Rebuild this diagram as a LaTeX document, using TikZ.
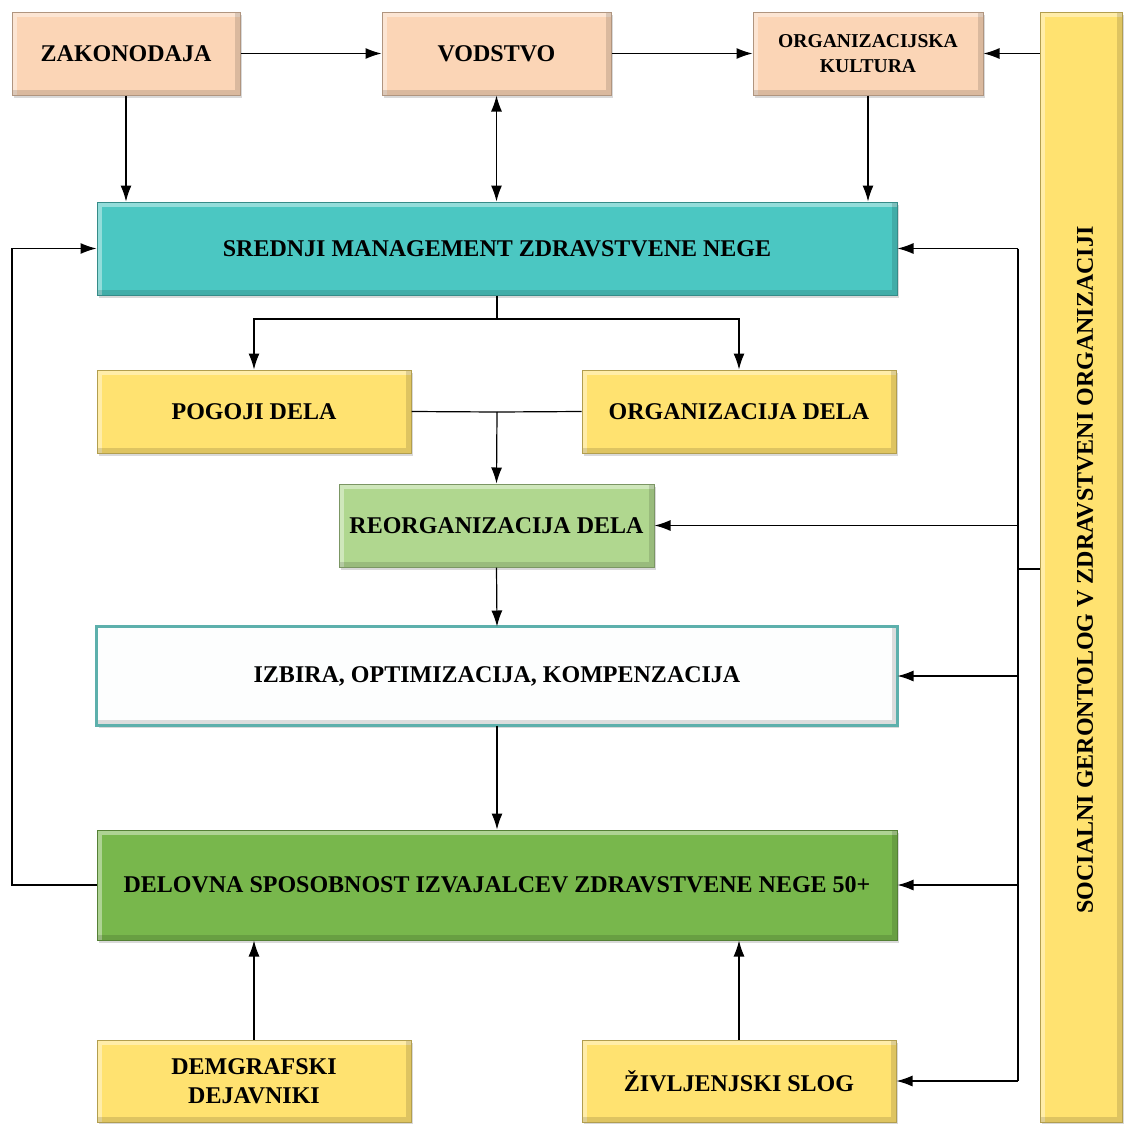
\documentclass[tikz,border=0pt]{standalone}
\usepackage{fontspec}
\setmainfont{Liberation Serif}
\usetikzlibrary{shadows,arrows.meta}
\definecolor{peach}{HTML}{FBD5B6}
\definecolor{tealbox}{HTML}{4BC7C2}
\definecolor{tealline}{HTML}{5DB0AC}
\definecolor{sun}{HTML}{FFE270}
\definecolor{lgreen}{HTML}{B0D78F}
\definecolor{dgreen}{HTML}{78B74C}
\definecolor{pale}{HTML}{FDFEFE}
\tikzset{
  x=0.5pt, y=-0.5pt,
  box/.style={rectangle, fill=#1, draw=#1!70!black, line width=0.5pt,
    inner sep=0pt, align=center, font=\bfseries\fontsize{12}{14.5}\selectfont,
    drop shadow={shadow xshift=1.2pt, shadow yshift=-1.6pt, opacity=0.3},
    path picture={
      \draw[white, opacity=0.4, line width=5pt]
        (path picture bounding box.south west) -- (path picture bounding box.north west)
        -- (path picture bounding box.north east);
      \draw[black, opacity=0.13, line width=5pt]
        (path picture bounding box.north east) -- (path picture bounding box.south east)
        -- (path picture bounding box.south west);
    }},
  arr/.style={draw, line width=0.6pt, -{Latex[length=8pt,width=5.5pt]}},
  ln/.style={draw, line width=0.6pt}
}
\begin{document}
\begin{tikzpicture}
\useasboundingbox (0,0) rectangle (1124,1124);

% top row
\node[box=peach, minimum width=114pt, minimum height=41.5pt] (zak) at (126,53.5) {ZAKONODAJA};
\node[box=peach, minimum width=114.5pt, minimum height=41.5pt] (vod) at (496.5,53.5) {VODSTVO};
\node[box=peach, minimum width=115pt, minimum height=41.5pt,
      font=\bfseries\fontsize{9.8}{12.5}\selectfont] (kult) at (868,53.5) {ORGANIZACIJSKA\\KULTURA};

% side bar
\node[box=sun, minimum width=41pt, minimum height=555pt] (bar) at (1081,567) {};
\node[rotate=90, font=\bfseries\fontsize{12}{14.5}\selectfont] (bartxt) at (1085,570)
  {SOCIALNI GERONTOLOG V ZDRAVSTVENI ORGANIZACIJI};

% main column
\node[box=tealbox, minimum width=400pt, minimum height=46.5pt] (sred) at (497,248.5) {SREDNJI MANAGEMENT ZDRAVSTVENE NEGE};
\node[box=sun, minimum width=157pt, minimum height=41.5pt] (pog) at (254,411.5) {POGOJI DELA};
\node[box=sun, minimum width=157pt, minimum height=41.5pt] (orgd) at (739,411.5) {ORGANIZACIJA DELA};
\node[box=lgreen, minimum width=157.5pt, minimum height=41.5pt] (reorg) at (496.5,525.5) {REORGANIZACIJA DELA};
\node[box=pale, minimum width=400pt, minimum height=49pt] (izb) at (497,676) {IZBIRA, OPTIMIZACIJA, KOMPENZACIJA};
\draw[tealline, line width=1.1pt] (izb.south west) rectangle (izb.north east);
\node[box=dgreen, minimum width=400pt, minimum height=55pt] (del) at (497,885) {DELOVNA SPOSOBNOST IZVAJALCEV ZDRAVSTVENE NEGE 50+};
\node[box=sun, minimum width=157pt, minimum height=41pt] (dem) at (254,1081) {DEMGRAFSKI\\DEJAVNIKI};
\node[box=sun, minimum width=157pt, minimum height=41pt] (ziv) at (739,1081) {ŽIVLJENJSKI SLOG};

% top row links
\draw[arr] (zak) -- (vod);
\draw[arr] (vod) -- (kult);
\draw[arr] (bar.west |- kult) -- (kult);
\draw[arr] (zak.south) -- (zak.south |- sred.north);
\draw[arr, {Latex[length=8pt,width=5.5pt]}-{Latex[length=8pt,width=5.5pt]}] (vod.south) -- (vod.south |- sred.north);
\draw[arr] (kult.south) -- (kult.south |- sred.north);

% split to working conditions and organisation
\coordinate (split) at (497,319);
\draw[ln] (sred.south) -- (split);
\draw[arr] (split) -| (pog.north);
\draw[arr] (split) -| (orgd.north);

% merge into reorganisation
\coordinate (merge) at (497,412);
\draw[ln] (pog.east) -- (merge);
\draw[ln] (orgd.west) -- (merge);
\draw[arr] (merge) -- (reorg.north);
\draw[arr] (reorg.south) -- (izb.north);
\draw[arr] (izb.south) -- (del.north);

% feedback loop on the left
\coordinate (lft) at (12,885);
\draw[arr] (del.west) -- (lft) |- (sred.west);

% factors from below
\draw[arr] (dem.north) -- (dem.north |- del.south);
\draw[arr] (ziv.north) -- (ziv.north |- del.south);

% gerontologist links on the right
\coordinate (rtop) at (1018,248.5);
\coordinate (rbot) at (1018,1081);
\coordinate (rjn) at (1018,569);
\draw[ln] (rtop) -- (rbot);
\draw[ln] (bar.west |- rjn) -- (rjn);
\draw[arr] (rtop) -- (sred.east);
\draw[arr] (rtop |- reorg.east) -- (reorg.east);
\draw[arr] (rtop |- izb.east) -- (izb.east);
\draw[arr] (rtop |- del.east) -- (del.east);
\draw[arr] (rbot) -- (ziv.east);
\end{tikzpicture}
\end{document}
